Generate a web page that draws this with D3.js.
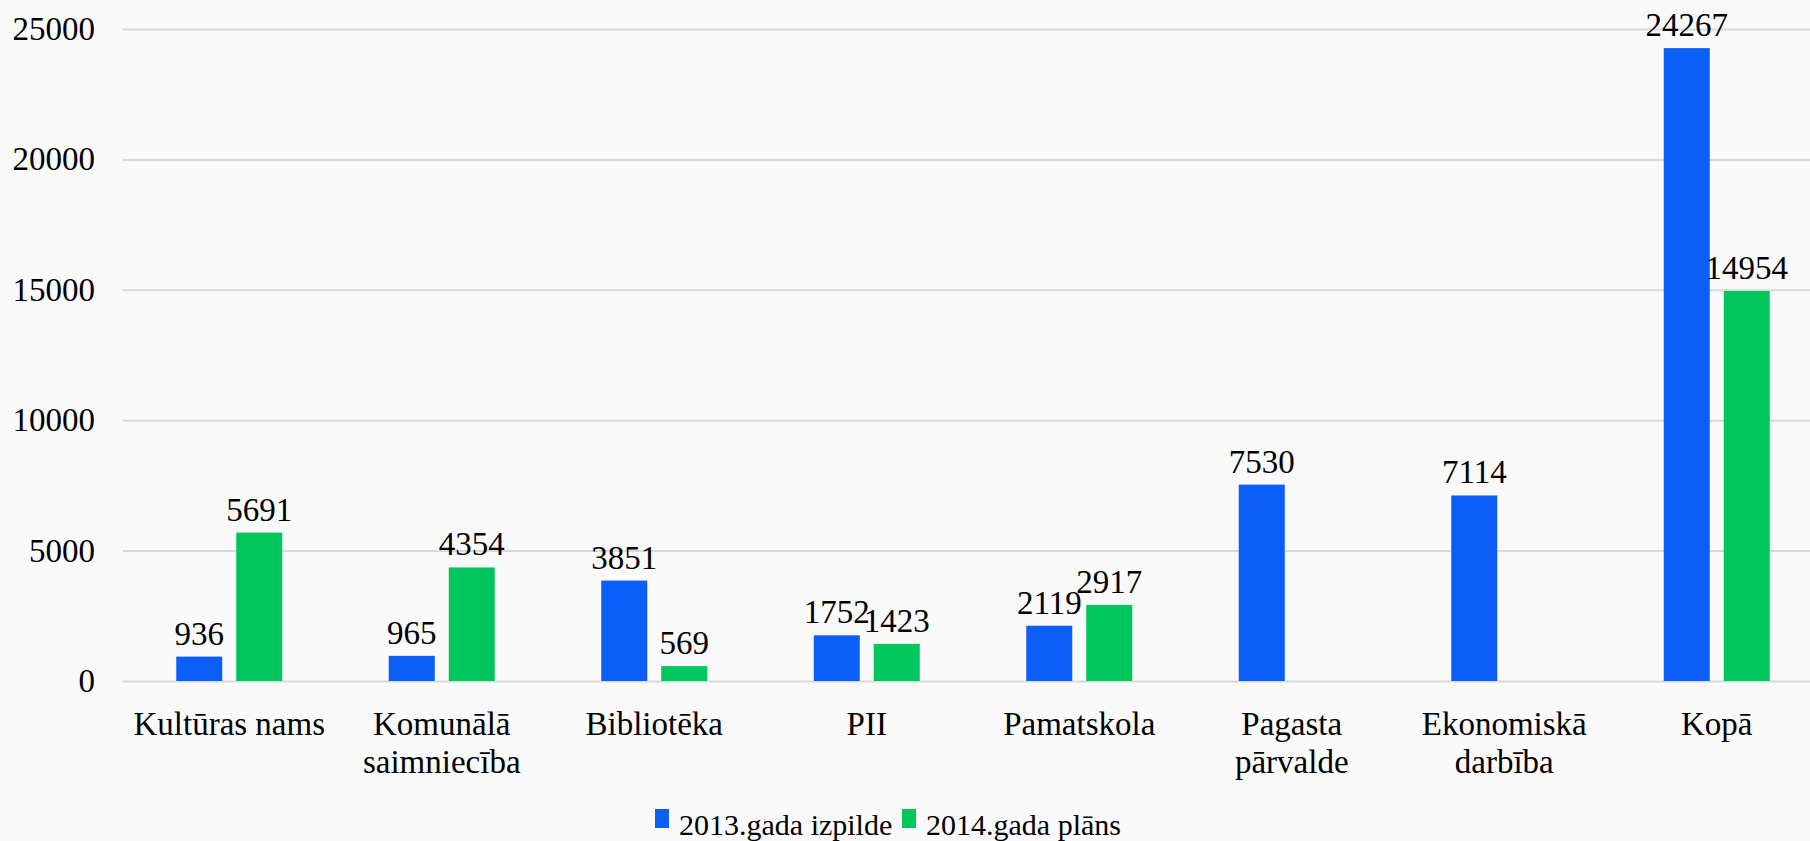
<!DOCTYPE html>
<head>
    <meta charset="utf-8">
    <title>Izdevumi pa nozarēm</title>
    <script src='https://d3js.org/d3.v7.min.js'></script>
    <style>
        body { margin: 0; background: #fafafa; }
        svg { display: block; }
        text { font-family: 'Liberation Serif', 'Times New Roman', serif; fill: #000; }
    </style>
</head>
<body>
    <svg></svg>
</body>

<script>
    // Data
    var categories = ['Kultūras nams', 'Komunālā saimniecība', 'Bibliotēka', 'PII',
        'Pamatskola', 'Pagasta pārvalde', 'Ekonomiskā darbība', 'Kopā'];
    var categoryLines = [['Kultūras nams'], ['Komunālā', 'saimniecība'], ['Bibliotēka'], ['PII'],
        ['Pamatskola'], ['Pagasta', 'pārvalde'], ['Ekonomiskā', 'darbība'], ['Kopā']];
    var seriesNames = ['2013.gada izpilde', '2014.gada plāns'];
    var values2013 = [936, 965, 3851, 1752, 2119, 7530, 7114, 24267];
    var values2014 = [5691, 4354, 569, 1423, 2917, null, null, 14954];
    var yTicks = [0, 5000, 10000, 15000, 20000, 25000];

    var vWidth = 1810;
    var vHeight = 841;
    var vColor = d3.scaleOrdinal().domain(seriesNames).range(['#0b5ef6', '#00c65e']);

    var svg = d3.select('svg').attr('width', vWidth).attr('height', vHeight);

    // Scales
    var x = d3.scaleBand().domain(categories).range([123, 1823]);
    var xSeries = d3.scaleBand().domain(seriesNames).range([-53, 53]).paddingInner(0.233);
    var y = d3.scaleLinear().domain([0, 25000]).range([681, 29]);

    // Gridlines + y labels
    var yAxis = svg.append('g')
        .attr('transform', 'translate(123,0)')
        .call(d3.axisLeft(y).tickValues(yTicks).tickSize(-(vWidth - 123)).tickPadding(28).tickFormat(d3.format('d')));
    yAxis.select('.domain').remove();
    yAxis.selectAll('.tick line').attr('stroke', '#d9d9d9').attr('stroke-width', 2);
    yAxis.selectAll('.tick text')
        .style('font-family', "'Liberation Serif', serif")
        .style('font-size', '33px')
        .attr('fill', '#000');

    // Bars
    var rows = categories.map(function (c, i) {
        return [
            { cat: c, series: seriesNames[0], value: values2013[i] },
            { cat: c, series: seriesNames[1], value: values2014[i] }
        ].filter(function (d) { return d.value != null; });
    });

    var groups = svg.selectAll('g.group').data(rows).enter().append('g')
        .attr('class', 'group')
        .attr('transform', function (d, i) { return 'translate(' + (x(categories[i]) + x.bandwidth() / 2) + ',0)'; });

    groups.selectAll('rect').data(function (d) { return d; }).enter().append('rect')
        .attr('x', function (d) { return xSeries(d.series); })
        .attr('width', xSeries.bandwidth())
        .attr('y', function (d) { return y(d.value); })
        .attr('height', function (d) { return y(0) - y(d.value); })
        .attr('fill', function (d) { return vColor(d.series); });

    // Value labels
    groups.selectAll('text.val').data(function (d) { return d; }).enter().append('text')
        .attr('class', 'val')
        .attr('x', function (d) { return xSeries(d.series) + xSeries.bandwidth() / 2; })
        .attr('y', function (d) { return y(d.value) - 12; })
        .attr('text-anchor', 'middle')
        .style('font-size', '33px')
        .text(function (d) { return d.value; });

    // Category labels
    var catLabels = svg.selectAll('text.cat').data(categoryLines).enter().append('text')
        .attr('class', 'cat')
        .attr('text-anchor', 'middle')
        .style('font-size', '33px');
    catLabels.selectAll('tspan').data(function (d, i) { return d.map(function (l) { return { line: l, i: i }; }); })
        .enter().append('tspan')
        .attr('x', function (d) { return x(categories[d.i]) + x.bandwidth() / 2; })
        .attr('y', function (d, j) { return 735 + j * 38; })
        .text(function (d) { return d.line; });

    // Legend
    var legend = svg.selectAll('g.legend').data(seriesNames).enter().append('g')
        .attr('class', 'legend')
        .attr('transform', function (d, i) { return 'translate(' + (655 + i * 247) + ',0)'; });
    legend.append('rect')
        .attr('x', 0).attr('y', 809).attr('width', 14).attr('height', 19)
        .attr('fill', function (d) { return vColor(d); });
    legend.append('text')
        .attr('x', 24).attr('y', 835)
        .style('font-size', '30px')
        .text(function (d) { return d; });
</script>
